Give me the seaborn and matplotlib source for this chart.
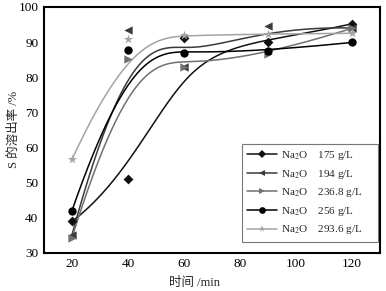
import numpy as np
import pandas as pd
import matplotlib
matplotlib.use("Agg")
import matplotlib.pyplot as plt
from matplotlib.lines import Line2D
from matplotlib.ticker import MultipleLocator
import seaborn as sns

# ---- data ----
time_min = [20, 40, 60, 90, 120]
s175 = [38.9, 51.0, 91.1, 89.9, 95.2]
s194 = [35.1, 93.4, 83.0, 94.6, 94.0]
s236 = [34.3, 85.2, 83.0, 86.5, 93.9]
s256 = [42.0, 87.7, 86.8, 87.5, 89.9]
s293 = [56.6, 90.9, 92.0, 92.3, 92.5]
labels = ["Na$_2$O    175 g/L", "Na$_2$O    194 g/L", "Na$_2$O    236.8 g/L",
          "Na$_2$O    256 g/L", "Na$_2$O    293.6 g/L"]
series = [s175, s194, s236, s256, s293]
colors = ["#111111", "#3a3a3a", "#707070", "#000000", "#a3a3a3"]
markers = ["D", "<", ">", "o", "*"]
msizes = [5.0, 6.0, 6.0, 6.0, 7.0]

sns.set_style("white")
plt.rcParams["font.family"] = ["Liberation Serif", "Noto Sans CJK SC"]
plt.rcParams["mathtext.fontset"] = "stix"


def bspline(px, py, k=3, n=240):
    P = np.column_stack([px, py]).astype(float)
    m = len(P)
    k = min(k, m - 1)
    inner = np.linspace(0, 1, m - k + 1)
    knots = np.concatenate([[0] * k, inner, [1] * k])
    t = np.linspace(0, 1, n)
    t[-1] = 1 - 1e-9

    def N(i, kk, tt):
        if kk == 0:
            return ((knots[i] <= tt) & (tt < knots[i + 1])).astype(float)
        a = 0.0
        d1 = knots[i + kk] - knots[i]
        if d1 > 0:
            a = (tt - knots[i]) / d1 * N(i, kk - 1, tt)
        b = 0.0
        d2 = knots[i + kk + 1] - knots[i + 1]
        if d2 > 0:
            b = (knots[i + kk + 1] - tt) / d2 * N(i + 1, kk - 1, tt)
        return a + b

    B = np.array([N(i, k, t) for i in range(m)])
    curve = B.T @ P
    return curve[:, 0], curve[:, 1]


fig = plt.figure(figsize=(3.86, 2.91), dpi=100)
ax = fig.add_axes([0.114, 0.1316, 0.870, 0.8444])

rows = []
for lab, vals in zip(labels, series):
    for t, v in zip(time_min, vals):
        rows.append({"t": t, "v": v, "s": lab})
df = pd.DataFrame(rows)

handles = []
for lab, vals, c, mk, ms in zip(labels, series, colors, markers, msizes):
    cx, cy = bspline(time_min, vals)
    ax.plot(cx, cy, color=c, lw=1.1, zorder=2)
    sub = df[df["s"] == lab]
    sns.scatterplot(data=sub, x="t", y="v", marker=mk, color=c, s=ms ** 2,
                    edgecolor=c, linewidth=0, ax=ax, zorder=3, legend=False)
    handles.append(Line2D([], [], color=c, lw=1.1, marker=mk, markersize=ms * 0.8,
                          markeredgewidth=0))

ax.set_xlim(10, 130)
ax.set_ylim(30, 100)
ax.xaxis.set_major_locator(MultipleLocator(20))
ax.xaxis.set_minor_locator(MultipleLocator(10))
ax.yaxis.set_major_locator(MultipleLocator(10))
ax.yaxis.set_minor_locator(MultipleLocator(5))
ax.tick_params(which="both", direction="in", top=False, right=False,
               labelsize=9.5, width=1.1, colors="black")
ax.tick_params(which="major", length=3.5, pad=4)
ax.tick_params(which="minor", length=2)
for sp in ax.spines.values():
    sp.set_linewidth(1.5)
    sp.set_color("black")

ax.set_xlabel("时间 /min", fontsize=9)
ax.xaxis.set_label_coords(0.449, -0.097)
ax.set_ylabel("S 的溶出率 /%", fontsize=9)
ax.yaxis.set_label_coords(-0.073, 0.5)

leg = ax.legend(handles, labels, loc="lower left",
                bbox_to_anchor=(0.589, 0.0435, 0.405, 0.4), mode="expand",
                borderaxespad=0, frameon=True, fancybox=False, fontsize=8,
                handlelength=2.7, handletextpad=0.3, labelspacing=0.5,
                borderpad=0.5, edgecolor="#555555")
leg.get_frame().set_linewidth(0.8)

fig.savefig("out.png", dpi=100)
